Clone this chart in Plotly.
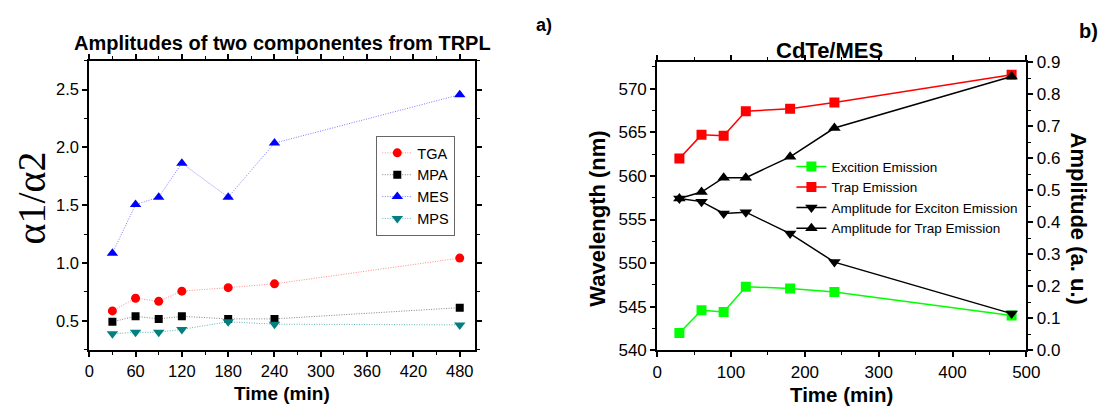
import plotly.graph_objects as go

W, H = 1119, 417

# ---------------- data: panel a ----------------
time_a = [30, 60, 90, 120, 180, 240, 480]
tga = [0.586, 0.696, 0.669, 0.757, 0.787, 0.820, 1.043]
mpa = [0.492, 0.539, 0.517, 0.539, 0.517, 0.517, 0.614]
mes = [1.085, 1.506, 1.570, 1.864, 1.570, 2.038, 2.457]
mps = [0.388, 0.401, 0.401, 0.426, 0.492, 0.471, 0.465]

# ---------------- data: panel b ----------------
time_b = [30, 60, 90, 120, 180, 240, 480]
exciton_wl = [542.0, 544.6, 544.4, 547.3, 547.1, 546.7, 544.0]
trap_wl = [562.0, 564.7, 564.6, 567.4, 567.7, 568.4, 571.6]
amp_exciton = [0.475, 0.465, 0.428, 0.432, 0.365, 0.276, 0.115]
amp_trap = [0.475, 0.495, 0.540, 0.540, 0.605, 0.695, 0.856]

SANS = "Arial, Liberation Sans, sans-serif"
SERIF = "Times New Roman, Liberation Serif, serif"


def px(x):
    return x / W


def py(y):
    return 1 - y / H


fig = go.Figure()

# panel a traces
left_series = [
    ("TGA", tga, "circle", 9, "#ff0000", "rgba(255,110,110,0.8)"),
    ("MPA", mpa, "square", 8, "#000000", "rgba(100,100,100,0.8)"),
    ("MES", mes, "triangle-up", 10, "#0000ff", "rgba(100,100,255,0.85)"),
    ("MPS", mps, "triangle-down", 10, "#008080", "rgba(70,170,170,0.85)"),
]
for name, vals, sym, sz, mc, lc in left_series:
    fig.add_trace(go.Scatter(
        x=time_a, y=vals, name=name, mode="lines+markers",
        xaxis="x", yaxis="y", legend="legend",
        line=dict(color=lc, width=1, dash="1px,1.5px"),
        marker=dict(symbol=sym, size=sz, color=mc),
    ))

# panel b traces
fig.add_trace(go.Scatter(
    x=time_b, y=exciton_wl, name="Excition Emission", mode="lines+markers",
    xaxis="x2", yaxis="y3", legend="legend2",
    line=dict(color="#00ff00", width=1.5),
    marker=dict(symbol="square", size=10, color="#00ff00"),
))
fig.add_trace(go.Scatter(
    x=time_b, y=trap_wl, name="Trap Emission", mode="lines+markers",
    xaxis="x2", yaxis="y3", legend="legend2",
    line=dict(color="#ff0000", width=1.5),
    marker=dict(symbol="square", size=10, color="#ff0000"),
))
fig.add_trace(go.Scatter(
    x=time_b, y=amp_exciton, name="Amplitude for Exciton Emission", mode="lines+markers",
    xaxis="x2", yaxis="y4", legend="legend2",
    line=dict(color="#000000", width=1.5),
    marker=dict(symbol="triangle-down", size=11, color="#000000"),
))
fig.add_trace(go.Scatter(
    x=time_b, y=amp_trap, name="Amplitude for Trap Emission", mode="lines+markers",
    xaxis="x2", yaxis="y4", legend="legend2",
    line=dict(color="#000000", width=1.5),
    marker=dict(symbol="triangle-up", size=11, color="#000000"),
))

axis_common = dict(
    showline=True, linecolor="black", linewidth=2,
    ticks="outside", ticklen=5, tickwidth=1.5, tickcolor="black",
    showgrid=False, zeroline=False,
)
minor_common = dict(ticklen=3, ticks="outside", tickcolor="black", tickwidth=1.2)

fig.update_layout(
    width=W, height=H,
    margin=dict(l=0, r=0, t=0, b=0),
    paper_bgcolor="white", plot_bgcolor="white",
    font=dict(family=SANS, color="black"),
    xaxis=dict(
        domain=[px(85.7), px(478.3)], anchor="y", range=[0, 500],
        tick0=0, dtick=60, mirror="ticks",
        minor=dict(dtick=30, **minor_common),
        tickfont=dict(size=16.5, family=SANS), **axis_common,
    ),
    yaxis=dict(
        domain=[py(357), py(54.3)], anchor="x", range=[0.25, 2.75],
        tick0=0.5, dtick=0.5, mirror="ticks", tickformat=".1f",
        minor=dict(dtick=0.25, **minor_common),
        tickfont=dict(size=16.5, family=SANS), **axis_common,
    ),
    xaxis2=dict(
        domain=[px(663.5), px(1039)], anchor="y3", range=[0, 500],
        tick0=0, dtick=100, mirror="ticks",
        minor=dict(dtick=50, **minor_common),
        tickfont=dict(size=17, family=SANS), **axis_common,
    ),
    yaxis3=dict(
        domain=[py(357.7), py(56)], anchor="x2", range=[540, 573],
        tick0=540, dtick=5,
        minor=dict(dtick=2.5, **minor_common),
        tickfont=dict(size=17, family=SANS), **axis_common,
    ),
    yaxis4=dict(
        overlaying="y3", anchor="x2", side="right", range=[0, 0.9],
        tick0=0, dtick=0.1, tickformat=".1f",
        minor=dict(dtick=0.05, **minor_common),
        tickfont=dict(size=17, family=SANS), **axis_common,
    ),
    legend=dict(
        x=px(377.7), y=py(133), xanchor="left", yanchor="top",
        bgcolor="white", bordercolor="#666666", borderwidth=1,
        font=dict(size=14.5, family=SANS),
        tracegroupgap=0,
    ),
    legend2=dict(
        x=px(800), y=py(149), xanchor="left", yanchor="top",
        bgcolor="rgba(0,0,0,0)", borderwidth=0,
        font=dict(size=13.5, family=SANS),
        tracegroupgap=0,
    ),
    showlegend=True,
)

annotations = [
    dict(text="<b>Amplitudes of two componentes from TRPL</b>", x=px(282), y=py(36),
         font=dict(size=20, family=SANS)),
    dict(text="<b>a)</b>", x=px(548), y=py(17), font=dict(size=18, family=SANS)),
    dict(text="<b>CdTe/MES</b>", x=px(839), y=py(44), font=dict(size=22, family=SANS)),
    dict(text="<b>b)</b>", x=px(1102), y=py(23), font=dict(size=20, family=SANS)),
    dict(text="<b>Time (min)</b>", x=px(282), y=py(403), font=dict(size=19, family=SANS)),
    dict(text="<b>Time (min)</b>", x=px(851), y=py(404), font=dict(size=20.5, family=SANS)),
    dict(text="α1/α2", x=px(27), y=py(198), textangle=-90, font=dict(size=40, family=SERIF)),
    dict(text="<b>Wavelength (nm)</b>", x=px(603), y=py(220), textangle=-90,
         font=dict(size=22, family=SANS)),
    dict(text="<b>Amplitude (a. u.)</b>", x=px(1092), y=py(220), textangle=90,
         font=dict(size=22, family=SANS)),
]
for a in annotations:
    a.update(xref="paper", yref="paper", showarrow=False, xanchor="center", yanchor="middle")
fig.update_layout(annotations=annotations)

fig.write_html("out.html")
